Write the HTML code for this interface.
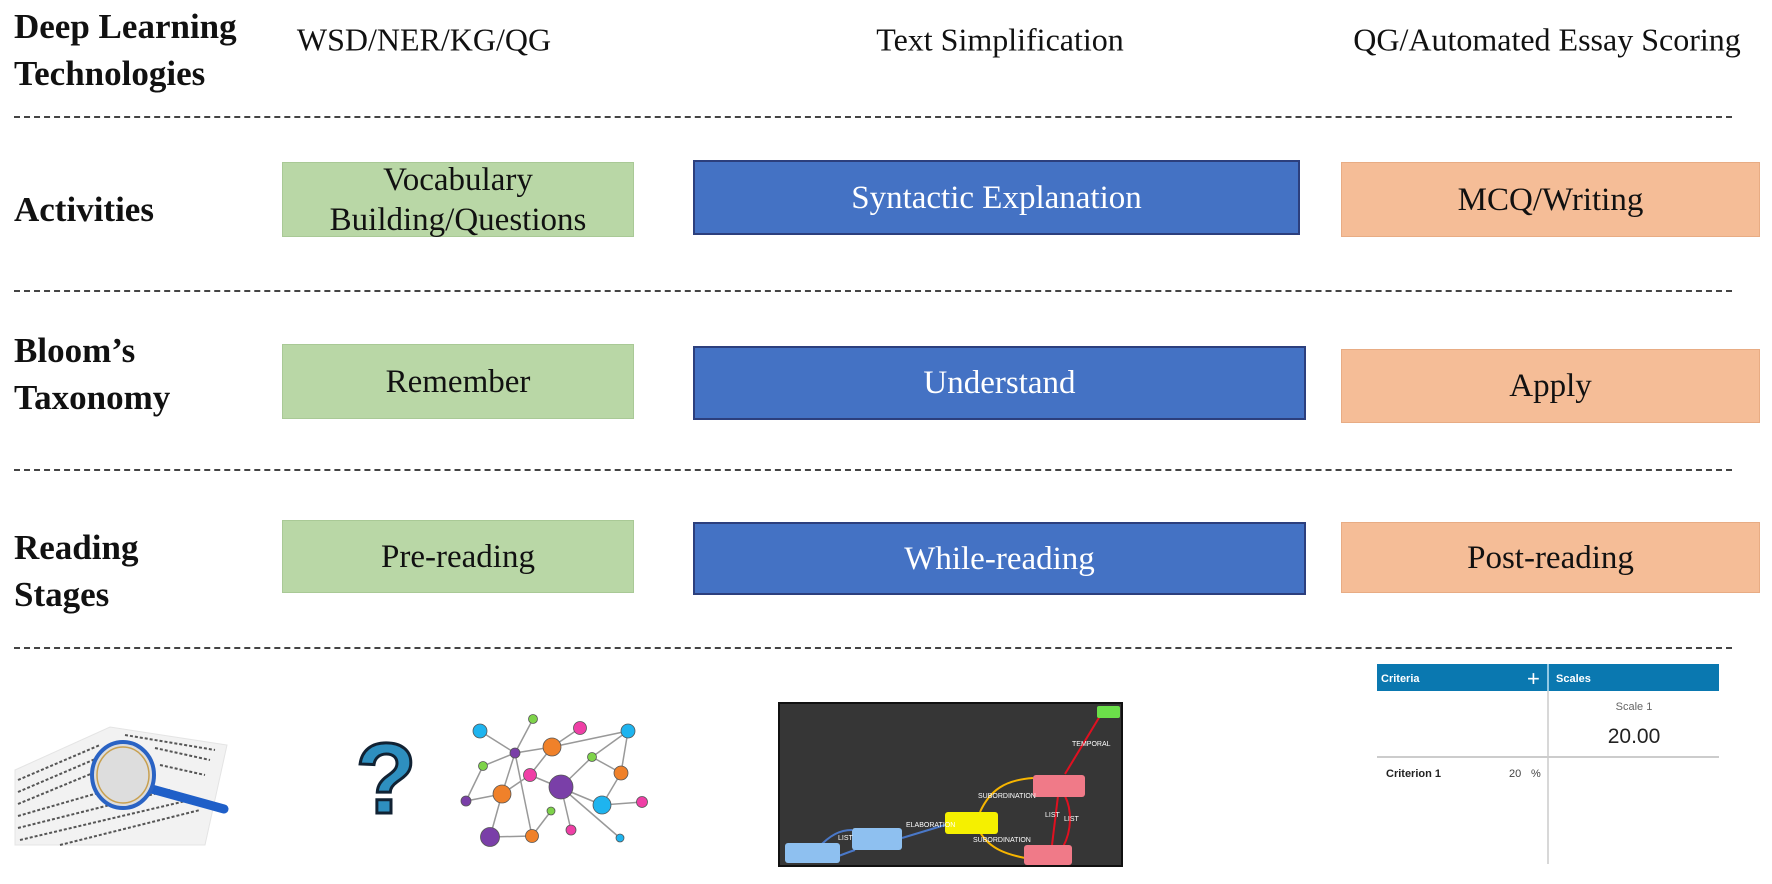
<!DOCTYPE html>
<html><head><meta charset="utf-8"><style>
html,body{margin:0;padding:0;background:#fff;}
body{width:1772px;height:884px;position:relative;overflow:hidden;font-family:"Liberation Serif",serif;}
.lab{position:absolute;font-weight:bold;font-size:35px;color:#111;line-height:47px;}
.hd{position:absolute;font-size:32px;color:#111;transform:translate(-50%,-50%);white-space:nowrap;}
.box{position:absolute;display:flex;align-items:center;justify-content:center;text-align:center;font-size:33px;line-height:40px;box-sizing:border-box;}
.g{background:#b9d7a6;border:1px solid #a9c996;color:#111;}
.b{background:#4472c4;border:2px solid #2c3f7d;color:#fff;}
.o{background:#f5bd97;border:1px solid #e8ac84;color:#111;}
.dash{position:absolute;left:14px;width:1718px;height:0;border-top:2px dashed #444;}
</style></head><body>
<div class="lab" style="left:14px;top:3px;">Deep Learning<br>Technologies</div>
<div class="hd" style="left:424px;top:40px;">WSD/NER/KG/QG</div>
<div class="hd" style="left:1000px;top:40px;">Text Simplification</div>
<div class="hd" style="left:1547px;top:40px;">QG/Automated Essay Scoring</div>
<div class="dash" style="top:116px;"></div>

<div class="lab" style="left:14px;top:186px;">Activities</div>
<div class="box g" style="left:282px;top:162px;width:352px;height:75px;">Vocabulary<br>Building/Questions</div>
<div class="box b" style="left:693px;top:160px;width:607px;height:75px;">Syntactic Explanation</div>
<div class="box o" style="left:1341px;top:162px;width:419px;height:75px;">MCQ/Writing</div>
<div class="dash" style="top:290px;"></div>

<div class="lab" style="left:14px;top:327px;">Bloom’s<br>Taxonomy</div>
<div class="box g" style="left:282px;top:344px;width:352px;height:75px;">Remember</div>
<div class="box b" style="left:693px;top:346px;width:613px;height:74px;">Understand</div>
<div class="box o" style="left:1341px;top:349px;width:419px;height:74px;">Apply</div>
<div class="dash" style="top:469px;"></div>

<div class="lab" style="left:14px;top:524px;">Reading<br>Stages</div>
<div class="box g" style="left:282px;top:520px;width:352px;height:73px;">Pre-reading</div>
<div class="box b" style="left:693px;top:522px;width:613px;height:73px;">While-reading</div>
<div class="box o" style="left:1341px;top:522px;width:419px;height:71px;">Post-reading</div>
<div class="dash" style="top:647px;"></div>

<svg style="position:absolute;left:0;top:0" width="1772" height="884">
 <!-- newspaper -->
 <polygon points="15,770 110,727 227,745 205,845 15,845" fill="#f2f2f2" stroke="#e4e4e4"/>
 <g stroke="#555" stroke-width="2" stroke-dasharray="3,2">
  <line x1="18" y1="780" x2="100" y2="745"/><line x1="18" y1="792" x2="100" y2="757"/>
  <line x1="18" y1="804" x2="110" y2="766"/><line x1="18" y1="816" x2="150" y2="778"/>
  <line x1="18" y1="828" x2="170" y2="790"/><line x1="20" y1="840" x2="190" y2="800"/>
  <line x1="60" y1="845" x2="200" y2="810"/><line x1="125" y1="735" x2="215" y2="750"/>
  <line x1="155" y1="748" x2="210" y2="760"/><line x1="160" y1="765" x2="205" y2="775"/>
 </g>
 <line x1="148" y1="788" x2="224" y2="809" stroke="#1f5fc8" stroke-width="9" stroke-linecap="round"/>
 <ellipse cx="123" cy="775" rx="31" ry="33" fill="#ddd" stroke="#2a63c4" stroke-width="4"/>
 <ellipse cx="123" cy="775" rx="26" ry="28" fill="none" stroke="#c8a050" stroke-width="1.5"/>
 <!-- question mark -->
 <text x="386" y="813" text-anchor="middle" font-family="Liberation Sans,sans-serif" font-weight="bold" font-size="100" fill="#2e8fbf" stroke="#123" stroke-width="3">?</text>
 <!-- network -->
 <g stroke="#999" stroke-width="1.5">
  <line x1="480" y1="731" x2="515" y2="753"/><line x1="533" y1="719" x2="515" y2="753"/>
  <line x1="515" y1="753" x2="552" y2="747"/><line x1="580" y1="728" x2="552" y2="747"/>
  <line x1="552" y1="747" x2="628" y2="731"/><line x1="515" y1="753" x2="483" y2="766"/>
  <line x1="483" y1="766" x2="466" y2="801"/><line x1="466" y1="801" x2="502" y2="794"/>
  <line x1="502" y1="794" x2="530" y2="775"/><line x1="530" y1="775" x2="552" y2="747"/>
  <line x1="515" y1="753" x2="502" y2="794"/><line x1="515" y1="753" x2="532" y2="836"/>
  <line x1="502" y1="794" x2="490" y2="837"/><line x1="490" y1="837" x2="532" y2="836"/>
  <line x1="532" y1="836" x2="551" y2="811"/><line x1="530" y1="775" x2="602" y2="805"/>
  <line x1="561" y1="787" x2="592" y2="757"/><line x1="592" y1="757" x2="628" y2="731"/>
  <line x1="592" y1="757" x2="621" y2="773"/><line x1="628" y1="731" x2="621" y2="773"/>
  <line x1="621" y1="773" x2="602" y2="805"/><line x1="602" y1="805" x2="642" y2="802"/>
  <line x1="561" y1="787" x2="571" y2="830"/><line x1="561" y1="787" x2="620" y2="838"/>
 </g>
 <g stroke="#555" stroke-width="0.8">
  <circle cx="480" cy="731" r="7" fill="#1eb4ef"/><circle cx="533" cy="719" r="4.5" fill="#7ed34a"/>
  <circle cx="580" cy="728" r="6.5" fill="#ef3fa6"/><circle cx="628" cy="731" r="7" fill="#1eb4ef"/>
  <circle cx="515" cy="753" r="5" fill="#7a3fa8"/><circle cx="552" cy="747" r="9" fill="#f0812a"/>
  <circle cx="483" cy="766" r="4.5" fill="#7ed34a"/><circle cx="592" cy="757" r="4.5" fill="#7ed34a"/>
  <circle cx="530" cy="775" r="6.5" fill="#ef3fa6"/><circle cx="621" cy="773" r="7" fill="#f0812a"/>
  <circle cx="561" cy="787" r="12" fill="#7a3fa8"/><circle cx="502" cy="794" r="9" fill="#f0812a"/>
  <circle cx="466" cy="801" r="5" fill="#7a3fa8"/><circle cx="602" cy="805" r="9" fill="#1eb4ef"/>
  <circle cx="642" cy="802" r="5.5" fill="#ef3fa6"/><circle cx="551" cy="811" r="4" fill="#7ed34a"/>
  <circle cx="571" cy="830" r="5" fill="#ef3fa6"/><circle cx="620" cy="838" r="4" fill="#1eb4ef"/>
  <circle cx="490" cy="837" r="9.5" fill="#7a3fa8"/><circle cx="532" cy="836" r="6.5" fill="#f0812a"/>
 </g>
 <!-- dark graph panel -->
 <rect x="779" y="703" width="343" height="163" fill="#363636" stroke="#111" stroke-width="2"/>
 <g fill="none" stroke-width="2">
  <path d="M980 812 C990 790 1005 780 1033 778" stroke="#f7b500"/>
  <path d="M980 832 C990 850 1010 855 1025 858" stroke="#f7b500"/>
  <path d="M1065 774 L1100 716" stroke="#e01020"/>
  <path d="M1052 845 L1058 796" stroke="#e01020"/>
  <path d="M1063 847 C1072 830 1072 810 1065 796" stroke="#e01020"/>
  <path d="M818 848 C830 835 840 830 852 830" stroke="#4a78c8"/>
  <path d="M822 862 C835 858 840 855 855 850" stroke="#4a78c8"/>
  <path d="M902 838 L945 825" stroke="#4a78c8"/>
 </g>
 <rect x="785" y="843" width="55" height="20" rx="3" fill="#8ec0f0"/>
 <rect x="852" y="828" width="50" height="22" rx="3" fill="#8ec0f0"/>
 <rect x="945" y="812" width="53" height="22" rx="3" fill="#f5f000"/>
 <rect x="1033" y="775" width="52" height="22" rx="3" fill="#f07a88"/>
 <rect x="1024" y="845" width="48" height="20" rx="3" fill="#f07a88"/>
 <rect x="1097" y="706" width="23" height="12" rx="2" fill="#6be04a"/>
 <g fill="#fff" font-family="Liberation Sans,sans-serif" font-size="7">
  <text x="1072" y="746">TEMPORAL</text><text x="978" y="798">SUBORDINATION</text>
  <text x="906" y="827">ELABORATION</text><text x="973" y="842">SUBORDINATION</text>
  <text x="838" y="840">LIST</text><text x="1045" y="817">LIST</text><text x="1064" y="821">LIST</text>
 </g>
 <!-- rubric -->
 <rect x="1377" y="664" width="342" height="27" fill="#0a78b0"/>
 <line x1="1548" y1="664" x2="1548" y2="864" stroke="#ccc" stroke-width="1.5"/>
 <line x1="1377" y1="757" x2="1719" y2="757" stroke="#ccc" stroke-width="2"/>
 <line x1="1548" y1="664" x2="1548" y2="691" stroke="#9ed4f0" stroke-width="1.5"/>
 <g font-family="Liberation Sans,sans-serif">
  <text x="1381" y="682" fill="#fff" font-size="11" font-weight="bold">Criteria</text>
  <text x="1527" y="686" fill="#fff" font-size="22">+</text>
  <text x="1556" y="682" fill="#fff" font-size="11" font-weight="bold">Scales</text>
  <text x="1634" y="710" fill="#666" font-size="11" text-anchor="middle">Scale 1</text>
  <text x="1634" y="743" fill="#222" font-size="21" text-anchor="middle">20.00</text>
  <text x="1386" y="777" fill="#222" font-size="11" font-weight="bold">Criterion 1</text>
  <text x="1509" y="777" fill="#444" font-size="11">20</text>
  <text x="1531" y="777" fill="#444" font-size="11">%</text>
 </g>
</svg>
</body></html>
